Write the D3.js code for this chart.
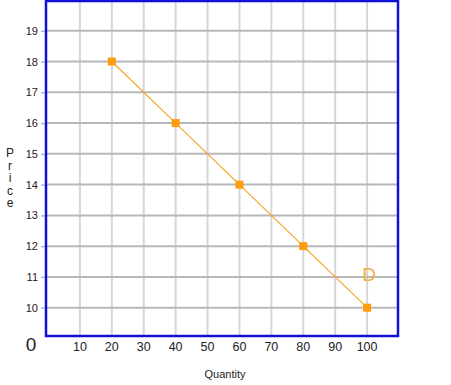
<!DOCTYPE html>
<html>
<head>
<meta charset="utf-8">
<script src="https://cdn.jsdelivr.net/npm/d3@7"></script>
<style>
  body { margin: 0; background: #fff; }
  text { font-family: "Liberation Sans", Arial, sans-serif; fill: #222; }
</style>
</head>
<body>
<div id="container"></div>
<script>
const width = 451;
const height = 385;

// demand schedule
const quantities = [20, 40, 60, 80, 100];
const prices = [18, 16, 14, 12, 10];
const xTicks = [10, 20, 30, 40, 50, 60, 70, 80, 90, 100];
const yTicks = [10, 11, 12, 13, 14, 15, 16, 17, 18, 19];
const curveLabel = "D";

const plot = { left: 46, right: 398, top: 1, bottom: 336 };

const x = d3.scaleLinear().domain([0, 110]).range([48, 399]);
const y = d3.scaleLinear().domain([9.08, 20]).range([336, 0]);

const svg = d3.select("#container")
              .append("svg")
              .attr("width", width)
              .attr("height", height);

// vertical grid
svg.append("g")
   .selectAll("line")
   .data(xTicks)
   .enter()
   .append("line")
   .attr("x1", d => x(d))
   .attr("x2", d => x(d))
   .attr("y1", plot.top)
   .attr("y2", plot.bottom)
   .attr("stroke", "#d6d6d6")
   .attr("stroke-width", 2);

// horizontal grid
svg.append("g")
   .selectAll("line")
   .data(yTicks)
   .enter()
   .append("line")
   .attr("x1", plot.left)
   .attr("x2", plot.right + 1)
   .attr("y1", d => y(d))
   .attr("y2", d => y(d))
   .attr("stroke", "#b8b8b8")
   .attr("stroke-width", 2);

// y axis ticks + labels
const yAxis = svg.append("g")
                 .attr("transform", "translate(" + plot.left + ",0)")
                 .call(d3.axisLeft(y).tickValues(yTicks).tickSize(5).tickPadding(3));
yAxis.select(".domain").remove();
yAxis.selectAll(".tick line").attr("stroke", "#a8b8e0").attr("stroke-width", 1.5);
yAxis.selectAll(".tick text")
     .style("font-size", "11px")
     .style("font-family", "\"Liberation Sans\", Arial, sans-serif")
     .attr("fill", "#222");

// x labels
svg.append("g")
   .selectAll("text")
   .data(xTicks)
   .enter()
   .append("text")
   .attr("x", d => x(d))
   .attr("y", 351)
   .attr("text-anchor", "middle")
   .style("font-size", "12.5px")
   .text(d => d);

// plot border
svg.append("rect")
   .attr("x", plot.left)
   .attr("y", plot.top)
   .attr("width", plot.right - plot.left)
   .attr("height", plot.bottom - plot.top)
   .attr("fill", "none")
   .attr("stroke", "#1010d8")
   .attr("stroke-width", 2.5);

// origin
svg.append("text")
   .attr("x", 31)
   .attr("y", 351)
   .attr("text-anchor", "middle")
   .style("font-size", "19px")
   .text("0");

// axis titles
svg.append("text")
   .attr("x", 225)
   .attr("y", 378)
   .attr("text-anchor", "middle")
   .style("font-size", "11px")
   .text("Quantity");

svg.append("g")
   .selectAll("text")
   .data("Price".split(""))
   .enter()
   .append("text")
   .attr("x", 10)
   .attr("y", (d, i) => 157 + i * 12.5)
   .attr("text-anchor", "middle")
   .style("font-size", "12px")
   .text(d => d);

// demand curve
const points = quantities.map((q, i) => ({ q: q, p: prices[i] }));
svg.append("path")
   .datum(points)
   .attr("fill", "none")
   .attr("stroke", "#f5a623")
   .attr("stroke-width", 1.2)
   .attr("d", d3.line().x(d => x(d.q)).y(d => y(d.p)));

svg.append("g")
   .selectAll("rect")
   .data(points)
   .enter()
   .append("rect")
   .attr("x", d => x(d.q) - 4)
   .attr("y", d => y(d.p) - 4)
   .attr("width", 8)
   .attr("height", 8)
   .attr("fill", "#ff9c0a");

const last = points[points.length - 1];
svg.append("text")
   .attr("x", x(last.q) + 2)
   .attr("y", y(11) + 4)
   .attr("text-anchor", "middle")
   .style("fill", "#f0b040")
   .style("font-size", "19px")
   .text(curveLabel);
</script>
</body>
</html>
